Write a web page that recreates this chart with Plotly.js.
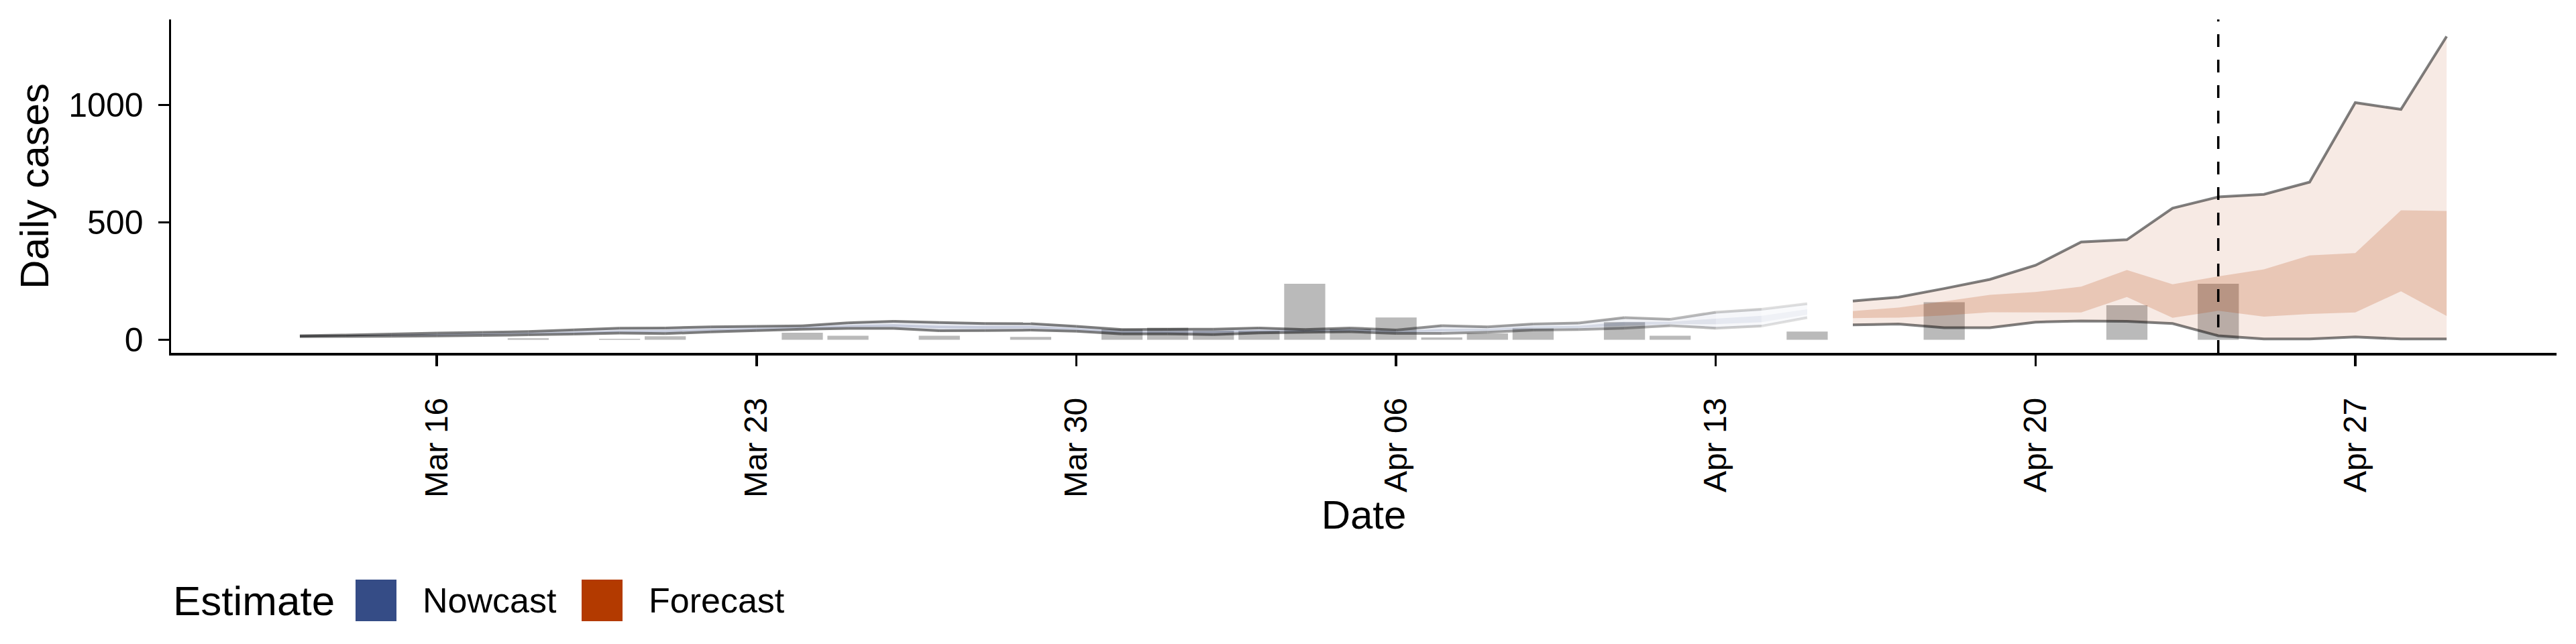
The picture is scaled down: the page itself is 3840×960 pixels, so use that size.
<!DOCTYPE html>
<html><head><meta charset="utf-8">
<script src="https://cdn.plot.ly/plotly-3.0.1.min.js"></script>
<style>html,body{margin:0;padding:0;background:#fff}#chart{width:3840px;height:960px}</style>
</head><body><div id="chart"></div>
<script>
// ---------------- data ----------------
const nowcastDates = ['2020-03-13','2020-03-14','2020-03-15','2020-03-16','2020-03-17','2020-03-18','2020-03-19','2020-03-20','2020-03-21','2020-03-22','2020-03-23','2020-03-24','2020-03-25','2020-03-26','2020-03-27','2020-03-28','2020-03-29','2020-03-30','2020-03-31','2020-04-01','2020-04-02','2020-04-03','2020-04-04','2020-04-05','2020-04-06','2020-04-07','2020-04-08','2020-04-09','2020-04-10','2020-04-11','2020-04-12','2020-04-13','2020-04-14','2020-04-15'];
const nowcastUpper90 = [17,20,24,28,31,35,42,49,50,55,57,59,72,78,73,69,68,57,43,44,45,50,43,50,41,60,55,67,71,94,87,117,130,153];
const nowcastUpper50 = [16,18,21,24,26,30,35,40,41,46,50,54,62,66,60,58,58,49,36,37,37,42,39,44,36,46,46,57,59,76,76,90,102,130];
const nowcastLower50 = [14,16,18,19,22,25,29,33,32,39,44,49,54,55,48,47,49,42,30,30,29,35,35,38,31,35,38,48,50,60,66,66,75,107];
const nowcastLower90 = [13,14,15,16,18,21,24,28,26,33,39,45,48,48,38,39,41,36,25,25,22,29,32,34,27,27,32,41,43,49,60,49,58,94];
const nowcastConfidence = [1,1,1,1,1,1,1,1,1,1,1,1,1,1,1,1,1,1,1,1,1,1,1,0.95,0.9,0.8,0.77,0.73,0.7,0.67,0.58,0.49,0.3,0.2];

const forecastDates = ['2020-04-16','2020-04-17','2020-04-18','2020-04-19','2020-04-20','2020-04-21','2020-04-22','2020-04-23','2020-04-24','2020-04-25','2020-04-26','2020-04-27','2020-04-28','2020-04-29'];
const forecastUpper90 = [165,181,218,257,317,416,426,560,608,619,671,1010,981,1292];
const forecastUpper50 = [122,137,163,191,203,226,297,236,270,300,359,369,551,548];
const forecastLower50 = [92,94,103,117,117,116,182,93,123,98,110,116,206,101];
const forecastLower90 = [63,67,51,51,75,80,78,69,17,3,3,12,3,3];

const caseDates = ['2020-03-13','2020-03-14','2020-03-15','2020-03-16','2020-03-17','2020-03-18','2020-03-19','2020-03-20','2020-03-21','2020-03-22','2020-03-23','2020-03-24','2020-03-25','2020-03-26','2020-03-27','2020-03-28','2020-03-29','2020-03-30','2020-03-31','2020-04-01','2020-04-02','2020-04-03','2020-04-04','2020-04-05','2020-04-06','2020-04-07','2020-04-08','2020-04-09','2020-04-10','2020-04-11','2020-04-12','2020-04-13','2020-04-14','2020-04-15','2020-04-16','2020-04-17','2020-04-18','2020-04-19','2020-04-20','2020-04-21','2020-04-22','2020-04-23','2020-04-24'];
const caseCounts = [0,0,0,0,0,6,0,4,15,0,0,30,17,0,17,0,12,0,45,51,39,38,238,46,95,10,27,48,0,75,17,0,0,35,0,0,160,0,0,0,147,0,238];

const forecastStartLine = '2020-04-24';
const estimateLabels = ['Nowcast','Forecast'];
const estimateColours = ['#354C86','#B33A00'];

// ---------------- layout constants ----------------
const W = 3840, H = 960;
const M = {l: 255, r: 29, t: 29, b: 434};
const PW = W - M.l - M.r, PH = H - M.t - M.b;
const px2x = p => (p - M.l) / PW;
const px2y = p => (H - M.b - p) / PH;
const FONT = 'Liberation Sans, Arial, sans-serif';
const DAY = 86400000;

function rgba(hex, a) {
  const r = parseInt(hex.slice(1,3),16), g = parseInt(hex.slice(3,5),16), b = parseInt(hex.slice(5,7),16);
  return `rgba(${r},${g},${b},${a})`;
}

const traces = [];

// reported cases (bars)
traces.push({
  type: 'bar', x: caseDates, y: caseCounts, width: 0.9 * DAY,
  marker: {color: '#BABABA', line: {width: 0}}, hoverinfo: 'skip', showlegend: false
});

// nowcast ribbons, one segment per day with fading alpha
const nowcastCol = estimateColours[0];
for (let i = 0; i < nowcastDates.length - 1; i++) {
  const a = (nowcastConfidence[i] + nowcastConfidence[i+1]) / 2;
  const xs = [nowcastDates[i], nowcastDates[i+1], nowcastDates[i+1], nowcastDates[i]];
  traces.push({type:'scatter', mode:'lines', x: xs,
    y: [nowcastLower90[i], nowcastLower90[i+1], nowcastUpper90[i+1], nowcastUpper90[i]],
    fill:'toself', fillcolor: rgba(nowcastCol, 0.107*a), line:{width:0}, hoverinfo:'skip', showlegend:false});
  traces.push({type:'scatter', mode:'lines', x: xs,
    y: [nowcastLower50[i], nowcastLower50[i+1], nowcastUpper50[i+1], nowcastUpper50[i]],
    fill:'toself', fillcolor: rgba(nowcastCol, 0.2*a), line:{width:0}, hoverinfo:'skip', showlegend:false});
}
// forecast ribbons
const fcCol = estimateColours[1];
const rev = arr => arr.slice().reverse();
traces.push({type:'scatter', mode:'lines', x: forecastDates.concat(rev(forecastDates)),
  y: forecastUpper90.concat(rev(forecastLower90)), fill:'toself', fillcolor: rgba(fcCol, 0.107),
  line:{width:0}, hoverinfo:'skip', showlegend:false});
traces.push({type:'scatter', mode:'lines', x: forecastDates.concat(rev(forecastDates)),
  y: forecastUpper50.concat(rev(forecastLower50)), fill:'toself', fillcolor: rgba(fcCol, 0.2),
  line:{width:0}, hoverinfo:'skip', showlegend:false});

// outline lines
for (let i = 0; i < nowcastDates.length - 1; i++) {
  const a = (nowcastConfidence[i] + nowcastConfidence[i+1]) / 2;
  const xs = [nowcastDates[i], nowcastDates[i+1]];
  [nowcastUpper90, nowcastLower90].forEach(arr => traces.push({type:'scatter', mode:'lines', x: xs,
    y: [arr[i], arr[i+1]], line:{color: `rgba(0,0,0,${0.5*a})`, width:4}, hoverinfo:'skip', showlegend:false}));
}
[forecastUpper90, forecastLower90].forEach(arr => traces.push({type:'scatter', mode:'lines', x: forecastDates,
  y: arr, line:{color:'rgba(0,0,0,0.5)', width:4}, hoverinfo:'skip', showlegend:false}));

// ---------------- legend (drawn manually) ----------------
const shapes = [{type:'line', xref:'x', yref:'paper', x0: forecastStartLine, x1: forecastStartLine, y0:0, y1:1,
  line:{color:'#000', width:3.5, dash:'19px,19px'}, layer:'above'}];
const annotations = [];
annotations.push({xref:'paper', yref:'paper', x: px2x(256), y: px2y(895), xanchor:'left', yanchor:'middle',
  text:'Estimate', showarrow:false, font:{family:FONT, size:62, color:'#000'}});
const keyX = [530, 867], textX = [628, 965];
estimateLabels.forEach((lab, k) => {
  shapes.push({type:'rect', xref:'paper', yref:'paper', x0: px2x(keyX[k]), x1: px2x(keyX[k]+61),
    y0: px2y(926), y1: px2y(864), fillcolor: estimateColours[k], line:{width:0}});
  annotations.push({xref:'paper', yref:'paper', x: px2x(textX[k]), y: px2y(895), xanchor:'left', yanchor:'middle',
    text: lab, showarrow:false, font:{family:FONT, size:52, color:'#000'}});
});

const layout = {
  width: W, height: H, margin: M, paper_bgcolor:'#fff', plot_bgcolor:'#fff',
  font: {family: FONT, color:'#000'},
  showlegend: false, barmode: 'overlay',
  xaxis: {type:'date', range:['2020-03-10 04:20','2020-05-01 09:45'], tick0:'2020-03-16', dtick: 7*DAY,
    tickformat:'%b %d', tickangle:-90, ticks:'outside', ticklen:16, tickwidth:3.5, tickcolor:'#000',
    showline:true, linecolor:'#000', linewidth:3.5, showgrid:false, zeroline:false,
    tickfont:{family:FONT, size:48, color:'#000'}, ticklabelstandoff: 28,
    title:{text:'Date', font:{family:FONT, size:60, color:'#000'}, standoff: 4}},
  yaxis: {range:[-56,1364], tickvals:[0,500,1000], ticks:'outside', ticklen:16, tickwidth:3.5, tickcolor:'#000',
    showline:true, linecolor:'#000', linewidth:3.5, showgrid:false, zeroline:false,
    tickfont:{family:FONT, size:50, color:'#000'}, ticklabelstandoff: 12,
    title:{text:'Daily cases', font:{family:FONT, size:60, color:'#000'}, standoff: 11}},
  shapes: shapes, annotations: annotations
};

Plotly.newPlot('chart', traces, layout, {staticPlot:true, displayModeBar:false});
</script></body></html>
